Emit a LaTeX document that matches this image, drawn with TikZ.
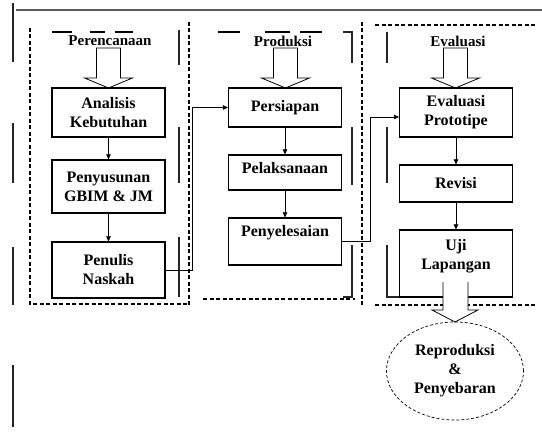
\documentclass[tikz,border=0pt]{standalone}
\usepackage{fontspec}
\setmainfont{Liberation Serif}
\usetikzlibrary{arrows.meta,shapes.geometric}
\begin{document}
\begin{tikzpicture}[x=1pt,y=-1pt,
  txtfont/.style={font=\bfseries\fontsize{16}{19}\selectfont},
  titlefont/.style={font=\bfseries\fontsize{15}{19}\selectfont},
  box/.style={draw, line width=1.2pt, minimum width=113pt, inner sep=0pt, txtfont, align=center},
  lbl/.style={txtfont, align=center, inner sep=0pt},
  ttl/.style={titlefont, align=center, inner sep=0pt},
  arr/.style={line width=0.7pt, -{Triangle[length=5pt,width=4.5pt]}},
  ghost/.style={line width=1.5pt, draw=black!85},
  panel/.style={line width=1.1pt, dash pattern=on 4pt off 2.5pt},
  barrow/.pic={\draw[line width=0.8pt, fill=white] (-12,0) -- (12,0) -- (12,30) -- (24,30) -- (0,40) -- (-24,30) -- (-12,30) -- cycle;}
]
\useasboundingbox (0,0) rectangle (542,436);
\fill[white] (0,0) rectangle (542,436);

% page frame lines
\draw[line width=2pt, draw=black!65] (16,10) -- (542,10);
\draw[ghost] (13,3) -- (13,62) (13,123) -- (13,183) (13,247) -- (13,305) (13,365) -- (13,427);
\draw[ghost] (179,30) -- (179,65) (179,127) -- (179,183) (179,237) -- (179,297);
\draw[ghost] (343,32) -- (352,32) -- (352,63) (352,127) -- (352,185) (352,245) -- (352,297) -- (343,297);
\draw[ghost] (387,32) -- (387,63) (387,127) -- (387,183) (387,245) -- (387,297) -- (405,297);

% dashed panel lines
\draw[panel] (30,28) -- (30,304) -- (189,304);
\draw[panel] (189,22) -- (189,305);
\draw[panel] (362,22) -- (362,305);
\draw[panel] (203,299) -- (355,299);
\draw[panel] (375,25) -- (535,25);
\draw[panel] (375,305) -- (535,305);
\draw[line width=1.2pt] (52,32) -- (72,32) (90,32) -- (105,32) (115,32) -- (133,32);
\draw[line width=1.2pt] (218,32) -- (240,32) (265,32) -- (290,32) (300,32) -- (322,32);

% titles
\node[ttl] (T1) at (110,41) {Perencanaan};
\node[ttl] (T2) at (283,41) {Produksi};
\node[ttl] (T3) at (458,41) {Evaluasi};
\pic at (108.5,48) {barrow};
\pic at (285.5,48) {barrow};
\pic at (455.5,48) {barrow};

% panel 1
\node[box, minimum height=49pt] (A1) at (108.5,112.5) {Analisis\\Kebutuhan};
\node[box, minimum height=53pt] (A2) at (108.5,186.5) {Penyusunan\\GBIM \& JM};
\node[box, minimum height=56pt] (A3) at (108.5,270) {Penulis\\Naskah};
\draw[arr] (A1) -- (A2);
\draw[arr] (A2) -- (A3);

% panel 2
\node[box, minimum height=39pt] (B1) at (285,107.5) {Persiapan};
\node[box, minimum height=35pt] (B2) at (285,172.5) {};
\node[lbl] (B2t) at (285,168) {Pelaksanaan};
\node[box, minimum height=47pt] (B3) at (285,241.5) {};
\node[lbl] (B3t) at (285,233) {Penyelesaian};
\draw[arr] (B1) -- (B2);
\draw[arr] (B2) -- (B3);

% panel 3
\node[box, minimum height=49pt] (C1) at (456,112.5) {Evaluasi\\Prototipe};
\node[box, minimum height=37pt] (C2) at (456,183.5) {Revisi};
\node[box, minimum height=67pt] (C3) at (456,263.5) {};
\node[lbl] (C3t) at (456,256.5) {Uji\\Lapangan};
\draw[arr] (C1) -- (C2);
\draw[arr] (C2) -- (C3);

% connectors between panels
\coordinate (j1) at (192,0);
\draw[arr] (A3.east) -- (A3.east -| j1) |- (B1.west);
\coordinate (j2) at (370,0);
\draw[arr] (B3.east) -- (B3.east -| j2) |- ([yshift=-4.5pt]C1.west);

% final
\node[ellipse, draw, line width=0.7pt, densely dashed, minimum width=137pt, minimum height=98pt, inner sep=0pt, txtfont, align=center] (E) at (455,371) {Reproduksi\\\&\\Penyebaran};
\draw[line width=0.8pt, fill=white] (443,282) -- (443,310) -- (432,310) -- (455,322) -- (478,310) -- (468,310) -- (468,282);
\end{tikzpicture}
\end{document}
